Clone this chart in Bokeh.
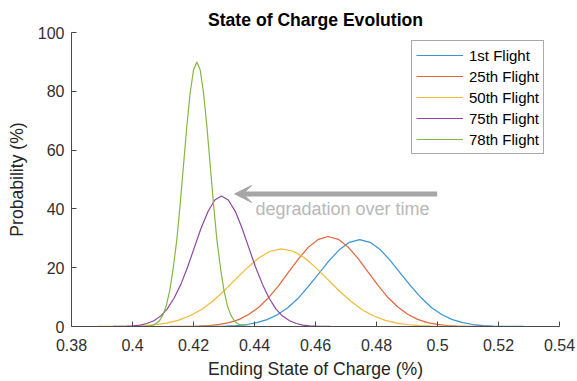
from bokeh.plotting import figure
from bokeh.models import Legend, LegendItem, FixedTicker, Arrow, VeeHead, Range1d, Label
from bokeh.embed import file_html
from bokeh.resources import INLINE

# Ending state of charge vs probability density for selected flights
soc_1st = [0.4205, 0.4239, 0.4273, 0.4306, 0.4340, 0.4374, 0.4408, 0.4441, 0.4475, 0.4509, 0.4543,
           0.4576, 0.4610, 0.4644, 0.4678, 0.4711, 0.4745, 0.4779, 0.4813, 0.4846, 0.4880, 0.4914,
           0.4948, 0.4981, 0.5015, 0.5049, 0.5083, 0.5116, 0.5150, 0.5184, 0.5218, 0.5251, 0.5285]
prob_1st = [0.01, 0.026, 0.065, 0.15, 0.33, 0.67, 1.30, 2.35, 4.00, 6.39, 9.59, 13.53, 17.92, 22.31,
            26.08, 28.64, 29.55, 28.64, 26.08, 22.31, 17.92, 13.53, 9.59, 6.39, 4.00, 2.35, 1.30,
            0.67, 0.33, 0.15, 0.065, 0.026, 0.01]

soc_25th = [0.4122, 0.4155, 0.4187, 0.4220, 0.4252, 0.4285, 0.4317, 0.4350, 0.4382, 0.4415, 0.4447,
            0.4480, 0.4512, 0.4545, 0.4577, 0.4610, 0.4642, 0.4675, 0.4707, 0.4740, 0.4772, 0.4805,
            0.4837, 0.4870, 0.4902, 0.4935, 0.4967, 0.5000, 0.5032, 0.5065, 0.5097, 0.5130, 0.5162]
prob_25th = [0.010, 0.027, 0.067, 0.16, 0.34, 0.70, 1.34, 2.43, 4.14, 6.62, 9.93, 14.01, 18.56, 23.10,
             27.00, 29.66, 30.6, 29.66, 27.00, 23.10, 18.56, 14.01, 9.93, 6.62, 4.14, 2.43, 1.34,
             0.70, 0.34, 0.16, 0.067, 0.027, 0.010]

soc_50th = [0.3885, 0.3923, 0.3961, 0.3998, 0.4036, 0.4074, 0.4112, 0.4149, 0.4187, 0.4225, 0.4263,
            0.4300, 0.4338, 0.4376, 0.4414, 0.4451, 0.4489, 0.4527, 0.4565, 0.4602, 0.4640, 0.4678,
            0.4716, 0.4753, 0.4791, 0.4829, 0.4867, 0.4904, 0.4942, 0.4980, 0.5018, 0.5055, 0.5093]
prob_50th = [0.009, 0.023, 0.058, 0.13, 0.29, 0.60, 1.16, 2.10, 3.57, 5.71, 8.57, 12.09, 16.01, 19.93,
             23.30, 25.59, 26.4, 25.59, 23.30, 19.93, 16.01, 12.09, 8.57, 5.71, 3.57, 2.10, 1.16,
             0.60, 0.29, 0.13, 0.058, 0.023, 0.009]

soc_75th = [0.3936, 0.3958, 0.3981, 0.4003, 0.4025, 0.4047, 0.4070, 0.4092, 0.4114, 0.4136, 0.4159,
            0.4181, 0.4203, 0.4225, 0.4248, 0.4270, 0.4292, 0.4314, 0.4337, 0.4359, 0.4381, 0.4403,
            0.4426, 0.4448, 0.4470, 0.4492, 0.4515, 0.4537, 0.4559, 0.4581, 0.4604, 0.4626, 0.4648]
prob_75th = [0.015, 0.039, 0.097, 0.23, 0.49, 1.01, 1.95, 3.53, 6.01, 9.60, 14.41, 20.33, 26.93, 33.51,
             39.18, 43.03, 44.4, 43.03, 39.18, 33.51, 26.93, 20.33, 14.41, 9.60, 6.01, 3.53, 1.95,
             1.01, 0.49, 0.23, 0.097, 0.039, 0.015]

soc_78th = [0.4034, 0.4045, 0.4056, 0.4067, 0.4078, 0.4089, 0.4100, 0.4111, 0.4122, 0.4133, 0.4145,
            0.4156, 0.4167, 0.4178, 0.4189, 0.4200, 0.4211, 0.4222, 0.4233, 0.4244, 0.4255, 0.4266,
            0.4277, 0.4289, 0.4300, 0.4311, 0.4322, 0.4333, 0.4344, 0.4355, 0.4366, 0.4377, 0.4388]
prob_78th = [0.030, 0.080, 0.20, 0.46, 1.00, 2.05, 3.95, 7.16, 12.18, 19.46, 29.22, 41.20, 54.59, 67.94,
             79.43, 87.23, 90.0, 87.23, 79.43, 67.94, 54.59, 41.20, 29.22, 19.46, 12.18, 7.16, 3.95,
             2.05, 1.00, 0.46, 0.20, 0.080, 0.030]

flight_labels = ["1st Flight", "25th Flight", "50th Flight", "75th Flight", "78th Flight"]
x_ticks = [0.38, 0.40, 0.42, 0.44, 0.46, 0.48, 0.50, 0.52, 0.54]
x_tick_labels = ["0.38", "0.4", "0.42", "0.44", "0.46", "0.48", "0.5", "0.52", "0.54"]
y_ticks = [0, 20, 40, 60, 80, 100]

series = [(soc_1st, prob_1st), (soc_25th, prob_25th), (soc_50th, prob_50th),
          (soc_75th, prob_75th), (soc_78th, prob_78th)]
line_colors = ["#3a94d4", "#e0663a", "#efbb35", "#8e46a0", "#84b840"]

FONT = "Liberation Sans"
AXIS_GREY = "#4a4a4a"

p = figure(width=577, height=381, output_backend="svg", toolbar_location=None,
           x_range=Range1d(0.38, 0.54), y_range=Range1d(0, 100),
           min_border_left=71, min_border_right=18, min_border_top=32, min_border_bottom=55,
           title="State of Charge Evolution")
p.outline_line_color = None
p.background_fill_color = "white"
p.border_fill_color = "white"
p.xgrid.visible = False
p.ygrid.visible = False

p.title.text_font = FONT
p.title.text_font_size = "17.6px"
p.title.text_font_style = "bold"
p.title.text_color = "#000000"
p.title.align = "center"
p.title.standoff = 5

for ax in (p.xaxis[0], p.yaxis[0]):
    ax.axis_line_color = AXIS_GREY
    ax.major_tick_line_color = AXIS_GREY
    ax.major_tick_in = 5
    ax.major_tick_out = 0
    ax.minor_tick_line_color = None
    ax.major_label_text_font = FONT
    ax.major_label_text_font_size = "16px"
    ax.major_label_text_color = "#303030"
    ax.axis_label_text_font = FONT
    ax.axis_label_text_font_size = "17.6px"
    ax.axis_label_text_font_style = "normal"
    ax.axis_label_text_color = "#262626"

p.xaxis.ticker = FixedTicker(ticks=x_ticks)
p.xaxis.major_label_overrides = dict(zip(x_ticks, x_tick_labels))
p.xaxis.major_label_standoff = 12
p.xaxis.axis_label = "Ending State of Charge (%)"
p.xaxis.axis_label_standoff = 5

p.yaxis.ticker = FixedTicker(ticks=y_ticks)
p.yaxis.major_label_standoff = 7
p.yaxis.axis_label = "Probability (%)"
p.yaxis.axis_label_standoff = 8

items = []
for (xs, ys), color, label in zip(series, line_colors, flight_labels):
    r = p.line(xs, ys, line_color=color, line_width=1.2)
    items.append(LegendItem(label=label, renderers=[r]))

legend = Legend(items=items, location=(340, 172), margin=0, padding=4, spacing=1,
                label_height=20, glyph_height=20, glyph_width=47, label_standoff=6,
                label_text_font=FONT, label_text_font_size="15px", label_text_color="#000000",
                border_line_color="#555555", border_line_width=1,
                background_fill_color="white", background_fill_alpha=1)
p.add_layout(legend, "center")

# trend arrow and caption
p.add_layout(Arrow(end=VeeHead(size=17, fill_color="#a6a6a6", line_color="#a6a6a6"),
                   x_start=0.4999, y_start=45.1, x_end=0.4335, y_end=45.1,
                   line_color="#a6a6a6", line_width=5))
p.add_layout(Label(x=0.4403, y=39.8, text="degradation over time", text_font=FONT,
                   text_font_size="18px", text_color="#b8b8b8",
                   text_baseline="middle", text_align="left"))

open("out.html", "w").write(file_html(p, INLINE))
